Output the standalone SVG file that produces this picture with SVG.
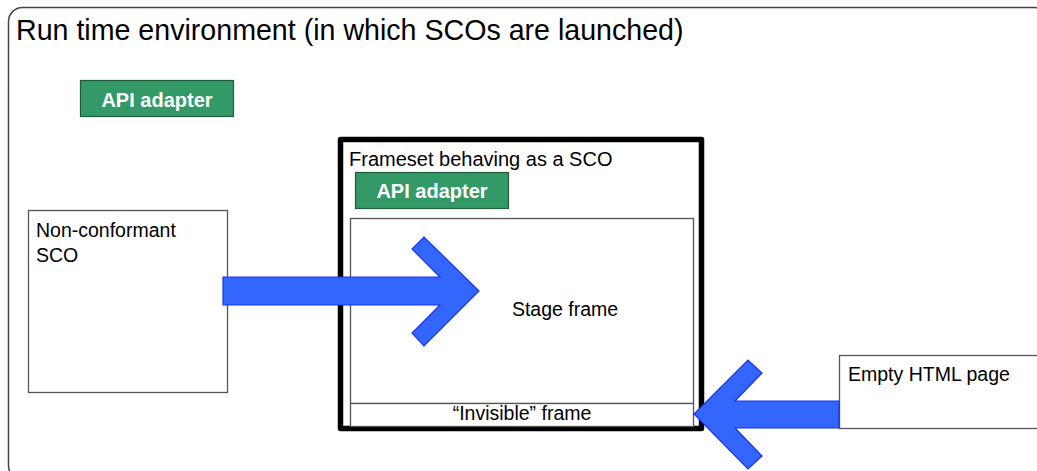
<svg xmlns="http://www.w3.org/2000/svg" width="1037" height="471" viewBox="0 0 1037 471">
<style>
text{font-family:"Liberation Sans",Arial,sans-serif;fill:#000}
.t{font-size:19.5px}
.api rect{fill:#339966;stroke:#1f5c3d;stroke-width:1.2}
.api text{font-size:20px;font-weight:bold;fill:#fff;text-anchor:middle}
.box{fill:#fff;stroke:#555;stroke-width:1.3}
.arrow{fill:#3366ff;stroke:#1a33ee;stroke-width:1.2;stroke-linejoin:miter}
</style>
<rect width="1037" height="471" fill="#fff"/>
<g id="runtime">
<rect x="8.5" y="7.5" width="1040" height="472" rx="14" ry="14" fill="#fff" stroke="#444" stroke-width="1.5"/>
<text x="16" y="40" style="font-size:28.6px">Run time environment (in which SCOs are launched)</text>
</g>
<g id="api-adapter-outer" class="api">
<rect x="80.5" y="80.5" width="153" height="36"/>
<text x="157" y="107">API adapter</text>
</g>
<g id="non-conformant-sco">
<rect class="box" x="28.5" y="210.5" width="199" height="182"/>
<text class="t" x="36" y="237">Non-conformant</text>
<text class="t" x="36" y="262">SCO</text>
</g>
<g id="frameset">
<rect x="340.5" y="139.5" width="361" height="289" fill="#fff" stroke="#000" stroke-width="5.5" stroke-linejoin="round"/>
<text class="t" x="349" y="166" style="font-size:20px">Frameset behaving as a SCO</text>
</g>
<g id="api-adapter-inner" class="api">
<rect x="355.5" y="172.5" width="153" height="36"/>
<text x="432" y="198">API adapter</text>
</g>
<g id="stage-frame">
<rect class="box" x="350.5" y="218.5" width="343" height="185" stroke="#333"/>
<text class="t" x="565" y="316" text-anchor="middle">Stage frame</text>
</g>
<g id="invisible-frame">
<rect class="box" x="350.5" y="403.5" width="343" height="23" stroke="#333"/>
<text class="t" x="522" y="420" text-anchor="middle">“Invisible” frame</text>
</g>
<g id="empty-html-page">
<rect class="box" x="839.5" y="355.5" width="210" height="73"/>
<text class="t" x="848" y="381">Empty HTML page</text>
</g>
<g id="connectors">
<polygon class="arrow" points="223,277 440,277 412,249 424,237 479,291 424,346 412,333 440,305 223,305"/>
<polygon class="arrow" points="839,401 735,401 762,373 748,360 694,414 748,469 762,456 735,428 839,428"/>
</g>
</svg>
